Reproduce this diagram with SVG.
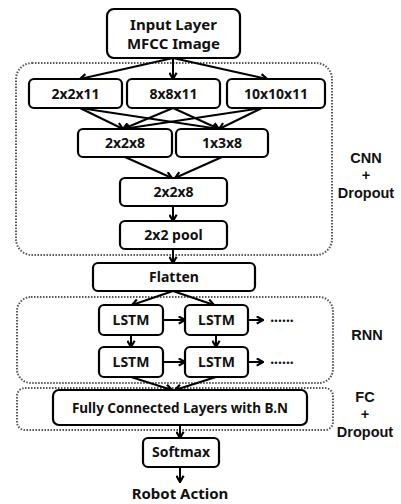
<svg xmlns="http://www.w3.org/2000/svg" width="401" height="504" viewBox="0 0 401 504">
<defs>
<marker id="ah" viewBox="0 0 10 10" refX="8.5" refY="5" markerWidth="9" markerHeight="9" orient="auto" markerUnits="userSpaceOnUse">
<path d="M1.5,1 L8.5,5 L1.5,9" fill="none" stroke="#000" stroke-width="2.4" stroke-linejoin="miter"/>
</marker>
<style>
.box{fill:#fff;stroke:#000;stroke-width:2.2}
.grp{fill:none;stroke:#555;stroke-width:2;stroke-dasharray:1.5 1.5}
.t{font-family:"Noto Sans","Liberation Sans",sans-serif;font-weight:bold;font-size:14px;text-anchor:middle;fill:#111}
.l{font-family:"Liberation Sans",sans-serif;font-weight:bold;font-size:14.5px;text-anchor:middle;fill:#111}
.c line{stroke:#000;stroke-width:2;fill:none;marker-end:url(#ah)}
</style>
</defs>
<rect width="401" height="504" fill="#fff"/>
<g id="groups">
<rect class="grp" x="16" y="63" width="316" height="192" rx="16"/>
<rect class="grp" x="17" y="297" width="316" height="86" rx="14"/>
<rect class="grp" x="17" y="388" width="316" height="42" rx="8"/>
</g>
<g class="c" id="connectors">
<line x1="173" y1="58" x2="80" y2="79"/>
<line x1="173" y1="58" x2="173" y2="79"/>
<line x1="173" y1="58" x2="267" y2="79"/>
<line x1="80" y1="108" x2="123" y2="129"/>
<line x1="80" y1="108" x2="219" y2="129"/>
<line x1="173" y1="108" x2="123" y2="129"/>
<line x1="173" y1="108" x2="219" y2="129"/>
<line x1="262" y1="108" x2="123" y2="129"/>
<line x1="262" y1="108" x2="219" y2="129"/>
<line x1="125" y1="157" x2="172" y2="178"/>
<line x1="222" y1="157" x2="175" y2="178"/>
<line x1="173" y1="206" x2="173" y2="221"/>
<line x1="173" y1="249" x2="173" y2="263"/>
<line x1="173" y1="291" x2="132" y2="305"/>
<line x1="173" y1="291" x2="214" y2="305"/>
<line x1="163" y1="320" x2="185" y2="320"/>
<line x1="248" y1="320" x2="263" y2="320"/>
<line x1="131" y1="335" x2="131" y2="347"/>
<line x1="216" y1="335" x2="216" y2="347"/>
<line x1="163" y1="362" x2="185" y2="362"/>
<line x1="248" y1="362" x2="263" y2="362"/>
<line x1="131" y1="377" x2="172" y2="390"/>
<line x1="216" y1="377" x2="175" y2="390"/>
<line x1="180" y1="425" x2="180" y2="438"/>
<line x1="180" y1="467" x2="180" y2="482"/>
</g>
<g id="input"><rect class="box" x="107" y="9" width="133" height="49" rx="7"/><text class="t" x="173.5" y="30" style="font-size:15px">Input Layer</text><text class="t" x="173.5" y="49" style="font-size:15px">MFCC Image</text></g>
<g id="c2x2x11"><rect class="box" x="29" y="79" width="93" height="29" rx="5"/><text class="t" x="75.5" y="98.5">2x2x11</text></g>
<g id="c8x8x11"><rect class="box" x="127" y="79" width="93" height="29" rx="5"/><text class="t" x="173.5" y="98.5">8x8x11</text></g>
<g id="c10x10x11"><rect class="box" x="227" y="79" width="98" height="29" rx="5"/><text class="t" x="276" y="98.5">10x10x11</text></g>
<g id="c2x2x8a"><rect class="box" x="78" y="129" width="94" height="28" rx="5"/><text class="t" x="125" y="148">2x2x8</text></g>
<g id="c1x3x8"><rect class="box" x="176" y="129" width="92" height="28" rx="5"/><text class="t" x="222" y="148">1x3x8</text></g>
<g id="c2x2x8b"><rect class="box" x="120" y="178" width="107" height="28" rx="5"/><text class="t" x="173.5" y="197">2x2x8</text></g>
<g id="pool"><rect class="box" x="120" y="221" width="107" height="28" rx="5"/><text class="t" x="173.5" y="240">2x2 pool</text></g>
<g id="flatten"><rect class="box" x="93" y="263" width="162" height="28" rx="5"/><text class="t" x="174" y="282">Flatten</text></g>
<g id="lstm11"><rect class="box" x="99" y="305" width="64" height="30" rx="5"/><text class="t" x="131" y="325">LSTM</text></g>
<g id="lstm12"><rect class="box" x="185" y="305" width="63" height="30" rx="5"/><text class="t" x="216.5" y="325">LSTM</text></g>
<g id="lstm21"><rect class="box" x="99" y="347" width="64" height="30" rx="5"/><text class="t" x="131" y="367">LSTM</text></g>
<g id="lstm22"><rect class="box" x="185" y="347" width="63" height="30" rx="5"/><text class="t" x="216.5" y="367">LSTM</text></g>
<g id="dots"><text class="t" x="282" y="322">......</text><text class="t" x="282" y="364">......</text></g>
<g id="fc"><rect class="box" x="53" y="390" width="254" height="35" rx="6"/><text class="t" x="180" y="413" style="font-size:13.5px">Fully Connected Layers with B.N</text></g>
<g id="softmax"><rect class="box" x="143" y="438" width="76" height="29" rx="5"/><text class="t" x="181" y="457">Softmax</text></g>
<g id="output"><text class="t" x="180" y="499" style="font-size:15px">Robot Action</text></g>
<g id="labels">
<text class="l" x="366" y="163">CNN</text><text class="l" x="366" y="180">+</text><text class="l" x="366" y="198">Dropout</text>
<text class="l" x="367" y="340">RNN</text>
<text class="l" x="365" y="402">FC</text><text class="l" x="365" y="419">+</text><text class="l" x="365" y="437">Dropout</text>
</g>
</svg>
